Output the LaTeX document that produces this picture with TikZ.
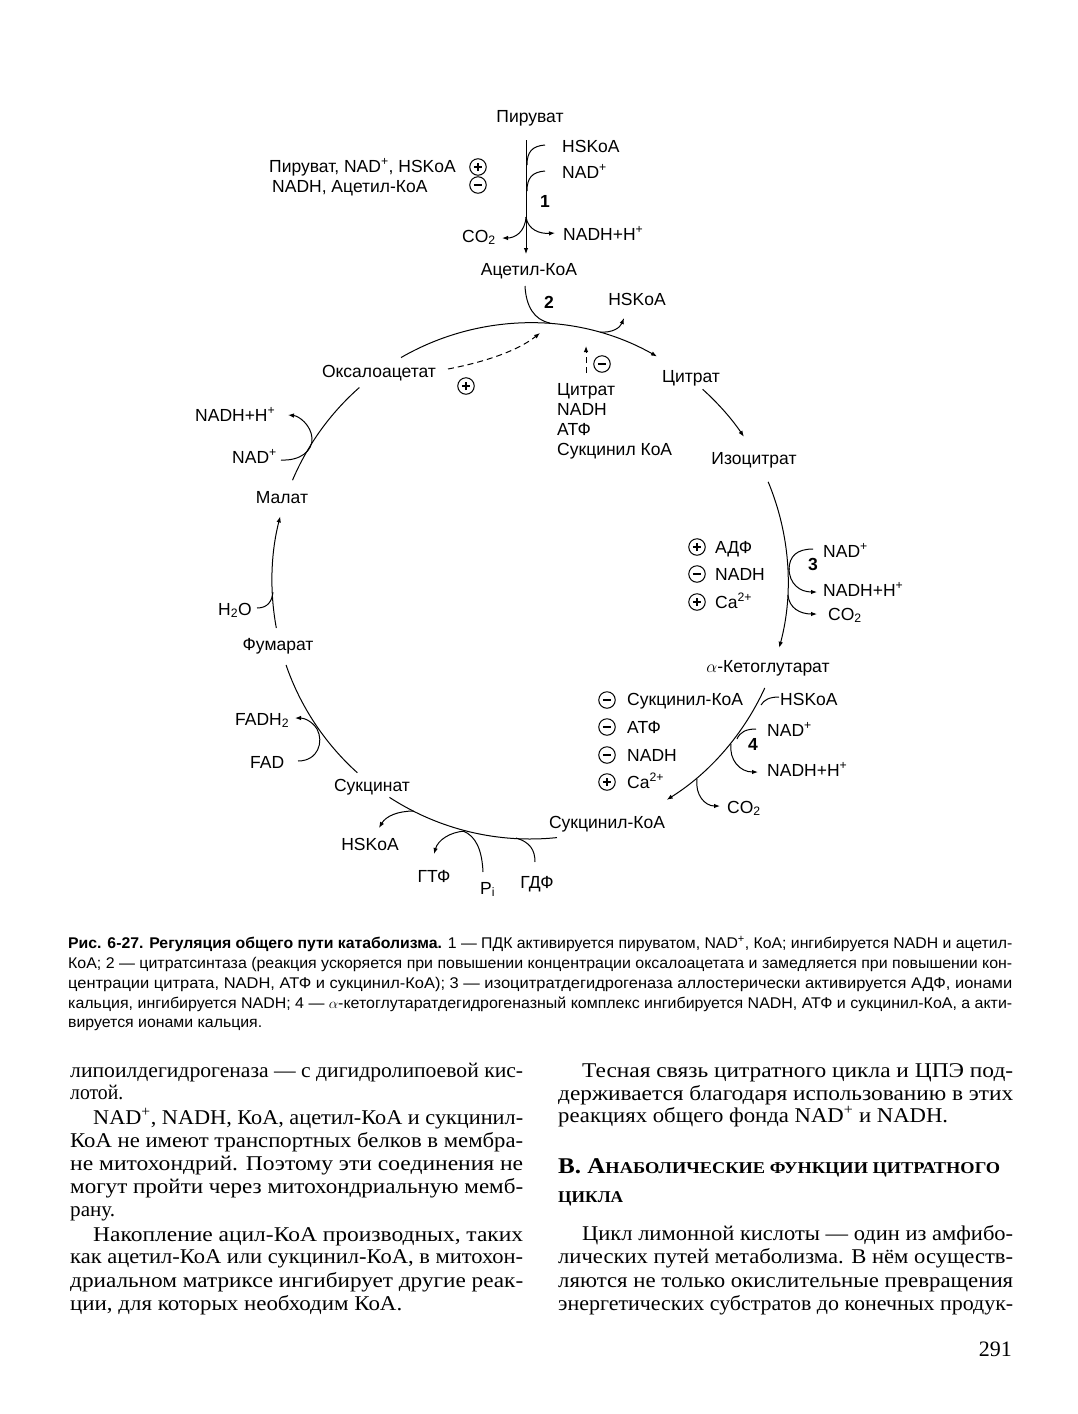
\documentclass[tikz,border=0pt]{standalone}
\usepackage{fontspec}
\usepackage{graphicx}
\setmainfont{Liberation Serif}
\newfontfamily\dsans{Liberation Sans}
\usetikzlibrary{arrows.meta}
\newcommand\jl[2]{\resizebox{#1}{\height}{#2}}
\tikzset{
  lbl/.style={inner sep=0pt, anchor=base, font=\dsans\fontsize{17.5}{20}\selectfont},
  lblw/.style={lbl, anchor=base west},
  lble/.style={lbl, anchor=base east},
  num/.style={lbl, font=\dsans\bfseries\fontsize{17.5}{20}\selectfont},
  sgn/.style={circle, draw, line width=1pt, inner sep=0pt, minimum size=16.5pt},
  sgnm/.style={sgn, path picture={\draw[line width=1.2pt] ([xshift=-4.2pt]path picture bounding box.center) -- ([xshift=4.2pt]path picture bounding box.center);}},
  sgnp/.style={sgn, path picture={\draw[line width=1.2pt] ([xshift=-4.2pt]path picture bounding box.center) -- ([xshift=4.2pt]path picture bounding box.center) ([yshift=-4.2pt]path picture bounding box.center) -- ([yshift=4.2pt]path picture bounding box.center);}},
  ln/.style={line width=1pt},
  arr/.style={ln, -{Latex[length=6pt,width=4.5pt]}},
  dsh/.style={arr, dash pattern=on 6pt off 4pt},
  body/.style={inner sep=0pt, anchor=base west, font=\fontsize{21}{23}\selectfont},
  capt/.style={inner sep=0pt, anchor=base west, font=\dsans\fontsize{15.5}{18}\selectfont}
}
\begin{document}
\begin{tikzpicture}[x=1pt,y=-1pt]
\fill[white] (0,0) rectangle (1077,1414);
\useasboundingbox (0,0) rectangle (1077,1414);

% ---------- reaction 1 ----------
\node[lbl] (pyr) at (530,122) {Пируват};
\node[lbl] (acet) at (529,275) {Ацетил-КоА};
\draw[arr] (526,140) -- (526,254);
\node[lblw] (r1hs) at (562,152) {HSKoA};
\node[lblw] (r1nad) at (562,178) {NAD\textsuperscript{+}};
\node[lblw] (r1nadh) at (563,240) {NADH+H\textsuperscript{+}};
\node[lble] (r1co) at (496,242) {CO\textsubscript{2}};
\node[num] (n1) at (545,207) {1};
\draw[ln] (545,145) .. controls (532,146) and (527,152) .. (527,165);
\draw[ln] (545,171) .. controls (532,172) and (527,178) .. (527,191);
\draw[arr] (526,217) .. controls (525,232) and (515,238) .. (502,238);
\draw[arr] (526,217) .. controls (528,230) and (540,234) .. (555,233);
\node[lble] (act1) at (456,172) {Пируват, NAD\textsuperscript{+}, HSKoA};
\node[sgnp] (act1s) at (478,167) {};
\node[lblw] (inh1) at (272,192) {NADH, Ацетил-КоА};
\node[sgnm] (inh1s) at (478,185) {};

% ---------- cycle ----------
\coordinate (c) at (530,581);
\draw[arr] ([shift={(-120:258)}]c) arc[start angle=-120, end angle=-60.5, radius=258];
\draw[arr] ([shift={(-48:258)}]c) arc[start angle=-48, end angle=-34, radius=258];
\draw[arr] ([shift={(-22.6:258)}]c) arc[start angle=-22.6, end angle=15, radius=258];
\draw[arr] ([shift={(24.5:258)}]c) arc[start angle=24.5, end angle=58, radius=258];
\draw[ln] ([shift={(84:258)}]c) arc[start angle=84, end angle=123, radius=258];
\draw[ln] ([shift={(132:258)}]c) arc[start angle=132, end angle=161, radius=258];
\draw[arr] ([shift={(169.5:258)}]c) arc[start angle=169.5, end angle=194.5, radius=258];
\draw[ln] ([shift={(203:258)}]c) arc[start angle=203, end angle=228.6, radius=258];

\node[lbl] (oxa) at (379,377) {Оксалоацетат};
\node[lbl] (cit) at (691,382) {Цитрат};
\node[lbl] (iso) at (754,464) {Изоцитрат};
\node[lbl] (akg) at (768,672) {$\alpha$-Кетоглутарат};
\node[lbl] (sca) at (607,828) {Сукцинил-КоА};
\node[lbl] (suc) at (372,791) {Сукцинат};
\node[lbl] (fum) at (278,650) {Фумарат};
\node[lbl] (mal) at (282,503) {Малат};

% ---------- reaction 2 ----------
\draw[ln] (525,286) .. controls (526,306) and (534,320) .. (550,323);
\node[num] (n2) at (549,308) {2};
\draw[arr] (600,332) .. controls (612,333) and (620,328) .. (624,318);
\node[lbl] (r2hs) at (637,305) {HSKoA};
\draw[dsh] (448,369) .. controls (490,361) and (520,349) .. (540,333);
\node[sgnp] (r2p) at (466,386) {};
\draw[dsh] (586,373) -- (586,346);
\node[sgnm] (r2m) at (602,364) {};
\node[lblw] (r2a) at (557,395) {Цитрат};
\node[lblw] (r2b) at (557,415) {NADH};
\node[lblw] (r2c) at (557,435) {АТФ};
\node[lblw] (r2d) at (557,455) {Сукцинил КоА};

% ---------- reaction 3 ----------
\draw[ln] (813,549) .. controls (797,549) and (789,556) .. (789,570);
\draw[arr] (789,568) .. controls (789,584) and (800,592) .. (817,592);
\draw[arr] (788,595) .. controls (789,608) and (800,614) .. (817,614);
\node[num] (n3) at (813,570) {3};
\node[lblw] (r3nad) at (823,557) {NAD\textsuperscript{+}};
\node[lblw] (r3nadh) at (823,596) {NADH+H\textsuperscript{+}};
\node[lblw] (r3co) at (828,620) {CO\textsubscript{2}};
\node[sgnp] (r3s1) at (697,547) {};
\node[sgnm] (r3s2) at (697,574) {};
\node[sgnp] (r3s3) at (697,602) {};
\node[lblw] (r3t1) at (715,553) {АДФ};
\node[lblw] (r3t2) at (715,580) {NADH};
\node[lblw] (r3t3) at (715,608) {Ca\textsuperscript{2+}};

% ---------- reaction 4 ----------
\draw[ln] (779,697) .. controls (769,697) and (764,700) .. (761,705);
\draw[ln] (756,729) .. controls (746,729) and (740,732) .. (737,739);
\draw[arr] (731,744) .. controls (729,760) and (740,772) .. (758,772);
\draw[arr] (697,779) .. controls (695,795) and (705,806) .. (720,806);
\node[num] (n4) at (753,750) {4};
\node[lblw] (r4hs) at (780,705) {HSKoA};
\node[lblw] (r4nad) at (767,736) {NAD\textsuperscript{+}};
\node[lblw] (r4nadh) at (767,776) {NADH+H\textsuperscript{+}};
\node[lblw] (r4co) at (727,813) {CO\textsubscript{2}};
\node[sgnm] (r4s1) at (607,700) {};
\node[sgnm] (r4s2) at (607,727) {};
\node[sgnm] (r4s3) at (607,755) {};
\node[sgnp] (r4s4) at (607,782) {};
\node[lblw] (r4t1) at (627,705) {Сукцинил-КоА};
\node[lblw] (r4t2) at (627,733) {АТФ};
\node[lblw] (r4t3) at (627,761) {NADH};
\node[lblw] (r4t4) at (627,788) {Ca\textsuperscript{2+}};

% ---------- reaction 5 ----------
\draw[arr] (414,811) .. controls (398,811) and (386,816) .. (379,828);
\draw[arr] (465,831) .. controls (450,832) and (438,840) .. (434,854);
\draw[ln] (483,872) .. controls (482,850) and (476,836) .. (463,831);
\draw[ln] (535,862) .. controls (535,850) and (530,842) .. (516,838);
\node[lbl] (r5hs) at (370,850) {HSKoA};
\node[lbl] (gtp) at (434,882) {ГТФ};
\node[lblw] (pi) at (480,894) {P\textsubscript{i}};
\node[lbl] (gdp) at (537,888) {ГДФ};

% ---------- reaction 6 ----------
\draw[arr] (298,761) .. controls (318,761) and (324,742) .. (317,729) .. controls (312,721) and (304,718) .. (295,718);
\node[lblw] (fadh) at (235,725) {FADH\textsubscript{2}};
\node[lblw] (fad) at (250,768) {FAD};

% ---------- reaction 7 ----------
\draw[ln] (257,608) .. controls (268,608) and (272,601) .. (273,592);
\node[lblw] (h2o) at (218,615) {H\textsubscript{2}O};

% ---------- reaction 8 ----------
\draw[arr] (281,460) .. controls (300,461) and (313,451) .. (312,438) .. controls (311,425) and (299,416) .. (288,415);
\node[lblw] (r8nadh) at (195,421) {NADH+H\textsuperscript{+}};
\node[lblw] (r8nad) at (232,463) {NAD\textsuperscript{+}};

% ---------- caption ----------
\node[capt] (cap1) at (68,948) {\jl{944pt}{{\bfseries Рис. 6-27. Регуляция общего пути катаболизма.} 1 — ПДК активируется пируватом, NAD\textsuperscript{+}, КоА; ингибируется NADH и ацетил-}};
\node[capt] (cap2) at (68,968) {\jl{944pt}{КоА; 2 — цитратсинтаза (реакция ускоряется при повышении концентрации оксалоацетата и замедляется при повышении кон-}};
\node[capt] (cap3) at (68,988) {\jl{944pt}{центрации цитрата, NADH, АТФ и сукцинил-КоА); 3 — изоцитратдегидрогеназа аллостерически активируется АДФ, ионами}};
\node[capt] (cap4) at (68,1008) {\jl{944pt}{кальция, ингибируется NADH; 4 — $\alpha$-кетоглутаратдегидрогеназный комплекс ингибируется NADH, АТФ и сукцинил-КоА, а акти-}};
\node[capt] (cap5) at (68,1027) {\jl{194pt}{вируется ионами кальция.}};

% ---------- left column ----------
\node[body] (l1) at (70,1077) {\jl{453pt}{липоилдегидрогеназа — с дигидролипоевой кис-}};
\node[body] (l2) at (70,1099) {\jl{53pt}{лотой.}};
\node[body] (l3) at (93,1124) {\jl{430pt}{NAD\textsuperscript{+}, NADH, КоА, ацетил-КоА и сукцинил-}};
\node[body] (l4) at (70,1147) {\jl{453pt}{КоА не имеют транспортных белков в мембра-}};
\node[body] (l5) at (70,1170) {\jl{453pt}{не митохондрий. Поэтому эти соединения не}};
\node[body] (l6) at (70,1193) {\jl{453pt}{могут пройти через митохондриальную мемб-}};
\node[body] (l7) at (70,1216) {\jl{45pt}{рану.}};
\node[body] (l8) at (93,1241) {\jl{430pt}{Накопление ацил-КоА производных, таких}};
\node[body] (l9) at (70,1263) {\jl{453pt}{как ацетил-КоА или сукцинил-КоА, в митохон-}};
\node[body] (l10) at (70,1287) {\jl{453pt}{дриальном матриксе ингибирует другие реак-}};
\node[body] (l11) at (70,1310) {\jl{332pt}{ции, для которых необходим КоА.}};

% ---------- right column ----------
\node[body] (r1) at (582,1077) {\jl{431pt}{Тесная связь цитратного цикла и ЦПЭ под-}};
\node[body] (r2) at (558,1100) {\jl{455pt}{держивается благодаря использованию в этих}};
\node[body] (r3) at (558,1122) {\jl{390pt}{реакциях общего фонда NAD\textsuperscript{+} и NADH.}};
\node[body] (h1) at (558,1173) {\jl{442pt}{\bfseries\fontsize{22.5}{23}\selectfont В. А\fontsize{16.5}{17}\selectfont НАБОЛИЧЕСКИЕ ФУНКЦИИ ЦИТРАТНОГО}};
\node[body] (h2) at (558,1202) {\jl{65pt}{\bfseries\fontsize{16.5}{17}\selectfont ЦИКЛА}};
\node[body] (r4) at (582,1240) {\jl{431pt}{Цикл лимонной кислоты — один из амфибо-}};
\node[body] (r5) at (558,1263) {\jl{455pt}{лических путей метаболизма. В нём осуществ-}};
\node[body] (r6) at (558,1287) {\jl{455pt}{ляются не только окислительные превращения}};
\node[body] (r7) at (558,1310) {\jl{455pt}{энергетических субстратов до конечных продук-}};

\node[body, anchor=base east, font=\fontsize{22}{24}\selectfont] (pg) at (1012,1356) {291};
\end{tikzpicture}
\end{document}
